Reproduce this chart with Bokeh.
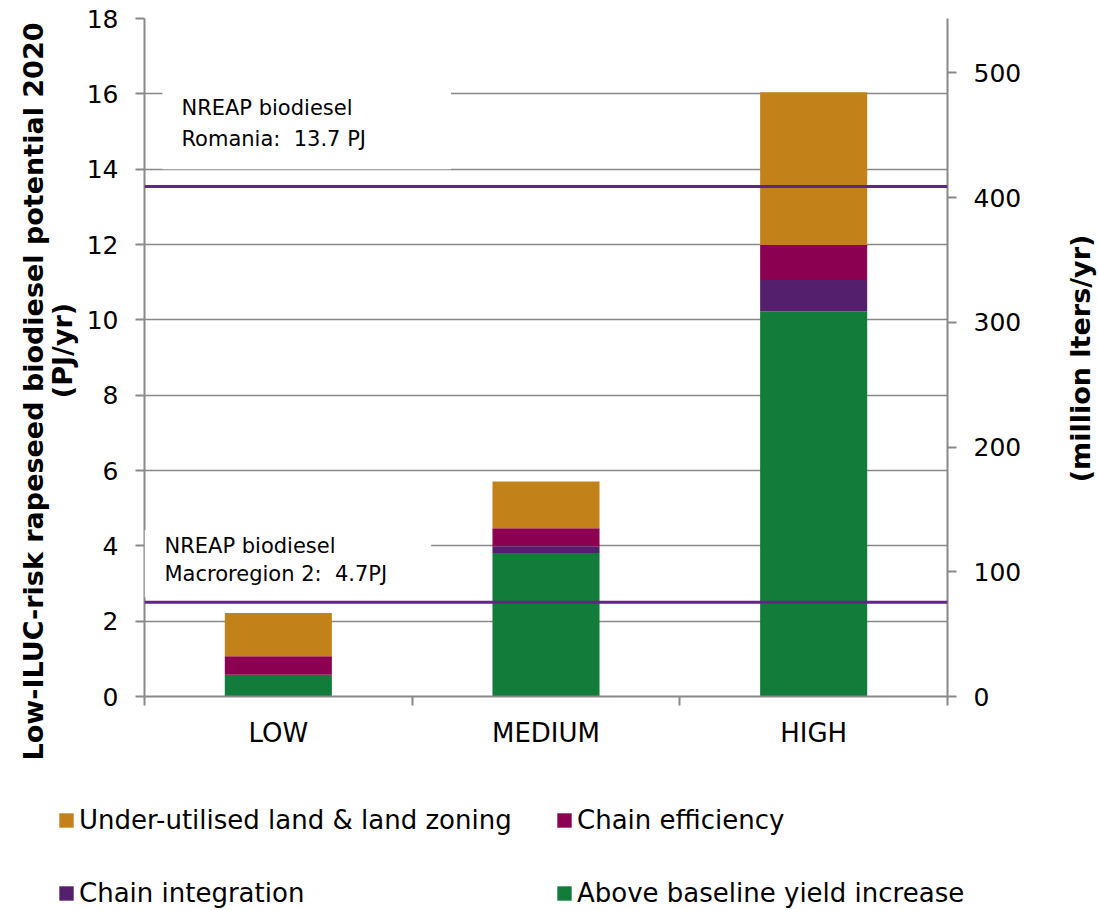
import math
from bokeh.plotting import figure
from bokeh.layouts import column, row
from bokeh.models import (Range1d, LinearAxis, FixedTicker, Span, Label, Legend, LegendItem)
from bokeh.embed import file_html
from bokeh.resources import INLINE

# ---- data ----
categories = ["LOW", "MEDIUM", "HIGH"]
above_baseline_yield = [0.58, 3.81, 10.22]
chain_integration = [0.0, 0.18, 0.84]
chain_efficiency = [0.49, 0.48, 0.93]
under_utilised_land = [1.15, 1.24, 4.05]
nreap_romania = 13.54
nreap_macroregion = 2.50
left_ticks = [0, 2, 4, 6, 8, 10, 12, 14, 16, 18]
right_ticks = [0, 100, 200, 300, 400, 500]
pj_to_million_liters = 30.2

left_title = ["Low-ILUC-risk rapeseed biodiesel potential 2020", "(PJ/yr)"]
right_title = "(million lters/yr)"
series_names = ["Above baseline yield increase", "Chain integration",
                "Chain efficiency", "Under-utilised land & land zoning"]
series_keys = ["yield", "integ", "eff", "land"]
series_values = [above_baseline_yield, chain_integration, chain_efficiency, under_utilised_land]
colors = ["#127C3B", "#54206E", "#8C0052", "#C38219"]
line_color = "#5F2683"
grid_gray = "#888888"
FONT = "DejaVu Sans"
NBSP = "\u00a0"

xpos = [i + 0.5 for i in range(len(categories))]
source = dict(x=xpos, **{k: v for k, v in zip(series_keys, series_values)})

TOP_H = 770
LEFT_W, RIGHT_W = 80, 40
MAIN_W = 1098 - LEFT_W - RIGHT_W


def strip_figure(width, height, xr=(0, 1), yr=(0, 1)):
    f = figure(width=width, height=height, output_backend="svg", toolbar_location=None,
               x_range=Range1d(*xr), y_range=Range1d(*yr),
               x_axis_location=None, y_axis_location=None,
               min_border_left=0, min_border_right=0, min_border_top=0, min_border_bottom=0,
               outline_line_color=None, background_fill_color="white", border_fill_color="white")
    if "frame_align" in f.properties():
        f.frame_align = False
    f.xgrid.visible = False
    f.ygrid.visible = False
    return f


ymax = 18
p = figure(width=MAIN_W, height=TOP_H, output_backend="svg", toolbar_location=None,
           x_range=Range1d(0, len(categories)), y_range=Range1d(0, ymax),
           min_border_left=144 - LEFT_W, min_border_right=MAIN_W + LEFT_W - 947,
           min_border_top=18, min_border_bottom=TOP_H - 696,
           outline_line_color=None, background_fill_color="white", border_fill_color="white")
if "frame_align" in p.properties():
    p.frame_align = False

p.extra_y_ranges = {"ml": Range1d(0, ymax * pj_to_million_liters)}

# grid
p.xgrid.grid_line_color = None
p.ygrid.grid_line_color = grid_gray
p.ygrid.grid_line_width = 1.5
p.ygrid.ticker = FixedTicker(ticks=left_ticks)

# bars
renderers = p.vbar_stack(series_keys, x="x", width=0.4, source=source,
                         color=colors, line_color=None)

# reference lines
for loc in (nreap_romania, nreap_macroregion):
    p.add_layout(Span(location=loc, dimension="width", line_color=line_color, line_width=3))

# text boxes
lab1 = Label(x=0.067, y=16.1, text="NREAP biodiesel\nRomania: " + NBSP + "13.7 PJ",
             text_font=FONT, text_font_size="21px", text_color="black",
             text_align="left", text_baseline="top", text_line_height=1.3,
             background_fill_color="white", border_line_color=None,
             padding=dict(left=19, right=85, top=6, bottom=18))
lab2 = Label(x=0.0, y=4.42, text="NREAP biodiesel\nMacroregion 2: " + NBSP + "4.7PJ",
             text_font=FONT, text_font_size="21px", text_color="black",
             text_align="left", text_baseline="top", text_line_height=1.15,
             background_fill_color="white", border_line_color=None,
             padding=dict(left=20, right=44, top=4, bottom=12))
p.add_layout(lab1)
p.add_layout(lab2)

# axes
for ax in (p.xaxis[0], p.yaxis[0]):
    ax.axis_line_color = grid_gray
    ax.axis_line_width = 2
    ax.major_tick_line_color = grid_gray
    ax.major_tick_line_width = 2
    ax.minor_tick_line_color = grid_gray
    ax.minor_tick_line_width = 2
    ax.major_label_text_font = FONT
    ax.major_label_text_color = "black"

xa = p.xaxis[0]
xa.ticker = FixedTicker(ticks=xpos, minor_ticks=list(range(len(categories) + 1)))
xa.major_label_overrides = {x: c for x, c in zip(xpos, categories)}
xa.major_tick_out = 0
xa.major_tick_in = 0
xa.minor_tick_out = 9
xa.minor_tick_in = 0
xa.major_label_standoff = 12
xa.major_label_text_font_size = "26px"

ya = p.yaxis[0]
ya.ticker = FixedTicker(ticks=left_ticks)
ya.major_tick_out = 9
ya.major_tick_in = 0
ya.minor_tick_line_color = None
ya.major_label_standoff = 17
ya.major_label_text_font_size = "25px"

ra = LinearAxis(y_range_name="ml", ticker=FixedTicker(ticks=right_ticks))
ra.axis_line_color = grid_gray
ra.axis_line_width = 2
ra.major_tick_line_color = grid_gray
ra.major_tick_line_width = 2
ra.major_tick_out = 9
ra.major_tick_in = 0
ra.minor_tick_line_color = None
ra.major_label_standoff = 17
ra.major_label_text_font = FONT
ra.major_label_text_font_size = "25px"
ra.major_label_text_color = "black"
p.add_layout(ra, "right")

# ---- axis titles (strips left and right of the chart) ----
lf = strip_figure(LEFT_W, TOP_H)
lf.add_layout(Label(x=33, y=TOP_H - 391, x_units="screen", y_units="screen",
                    text=left_title[0], angle=math.pi / 2,
                    text_font=FONT, text_font_style="bold", text_font_size="27px",
                    text_color="black", text_align="center", text_baseline="middle"))
lf.add_layout(Label(x=62, y=TOP_H - 350, x_units="screen", y_units="screen",
                    text=left_title[1], angle=math.pi / 2,
                    text_font=FONT, text_font_style="bold", text_font_size="27px",
                    text_color="black", text_align="center", text_baseline="middle"))

rf = strip_figure(RIGHT_W, TOP_H)
rf.add_layout(Label(x=22, y=TOP_H - 358, x_units="screen", y_units="screen",
                    text=right_title, angle=math.pi / 2,
                    text_font=FONT, text_font_style="bold", text_font_size="27px",
                    text_color="black", text_align="center", text_baseline="middle"))

# ---- legend strip below the chart ----
lp = strip_figure(1098, 910 - TOP_H, xr=(1000, 1001), yr=(1000, 1001))
# swatch renderers (same series; their bars lie far outside this strip's visible range)
swatches = [lp.vbar(x=xpos, top=vals, width=0.4, fill_color=c, line_color=None)
            for vals, c in zip(series_values, colors)]

# row-major: land, efficiency / integration, yield
order = [3, 2, 1, 0]
items = [LegendItem(label=series_names[i], renderers=[swatches[i]]) for i in order]
legend = Legend(items=items, orientation="horizontal", ncols=2,
                location=(57, 2),
                label_text_font=FONT, label_text_font_size="26px", label_text_color="black",
                glyph_width=18, glyph_height=18, label_standoff=4,
                label_width=433, label_height=30, spacing=43, padding=0, margin=0,
                border_line_color=None, background_fill_alpha=0)
lp.add_layout(legend, "center")

layout = column(row(lf, p, rf, spacing=0), lp, spacing=0)
open("out.html", "w").write(file_html(layout, INLINE))
